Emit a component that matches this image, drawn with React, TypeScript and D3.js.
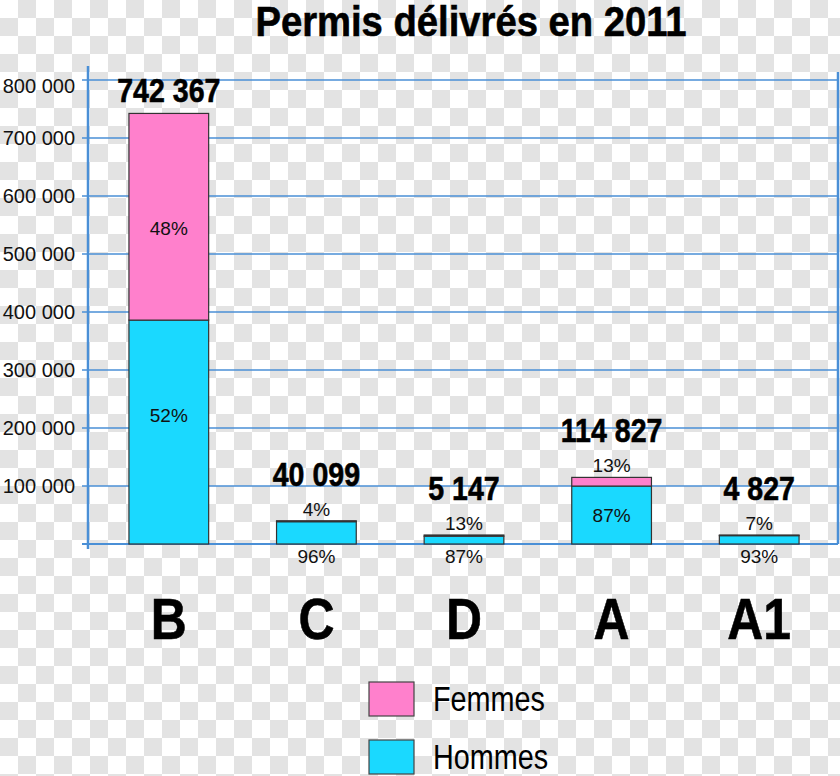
import { scaleBand, scaleLinear, format, range } from 'd3'
import type { ReactNode } from 'react'

const categories = ['B', 'C', 'D', 'A', 'A1']
const totals = [742367, 40099, 5147, 114827, 4827]
const hommesShare = [52, 96, 87, 87, 93]
const femmesShare = [48, 4, 13, 13, 7]
const yTicks = [100000, 200000, 300000, 400000, 500000, 600000, 700000, 800000]
const legendItems = [
  { label: 'Femmes', color: '#ff80cc' },
  { label: 'Hommes', color: '#1ad9ff' },
]

const PINK = '#ff80cc'
const CYAN = '#1ad9ff'
const GRID = '#4a8fd6'
const SANS = '"Liberation Sans", Arial, sans-serif'
const MIN_BAR_PX = 9
const CELL = 18

const fmt = (v: number) => format(',')(v).replace(/,/g, ' ')

// no narrow font installed, so squeeze Liberation Sans horizontally
function NText({
  x,
  y,
  size,
  squeeze,
  bold,
  anchor = 'middle',
  children,
}: {
  x: number
  y: number
  size: number
  squeeze: number
  bold?: boolean
  anchor?: 'start' | 'middle' | 'end'
  children: ReactNode
}) {
  return (
    <g transform={`translate(${x},${y}) scale(${squeeze},1)`}>
      <text
        textAnchor={anchor}
        fontFamily={SANS}
        fontWeight={bold ? 'bold' : 'normal'}
        fontSize={size}
        fill="#000"
        stroke={bold ? '#000' : 'none'}
        strokeWidth={bold ? 0.6 : 0}
      >
        {children}
      </text>
    </g>
  )
}

export default function App() {
  const width = 840
  const height = 776
  const left = 88
  const right = 838
  const baseline = 544

  const x = scaleBand<string>().domain(categories).range([95, 833]).paddingInner(0.46).paddingOuter(0.23)
  const y = scaleLinear().domain([0, 800000]).range([baseline, 80])

  // transparency checkerboard behind the chart
  const cols = range(Math.ceil(width / CELL))
  const rows = range(Math.ceil(height / CELL))

  return (
    <svg
      width={width}
      height={height}
      style={{ position: 'absolute', left: 0, top: 0, display: 'block' }}
    >
      <rect width={width} height={height} fill="#ffffff" />
      <g>
        {rows.map((r) =>
          cols
            .filter((c) => (r + c) % 2 === 1)
            .map((c) => (
              <rect key={`${r}-${c}`} x={c * CELL} y={r * CELL} width={CELL} height={CELL} fill="#e3e3e3" />
            )),
        )}
      </g>

      <NText x={471} y={36} size={42} squeeze={0.91} bold>
        Permis délivrés en 2011
      </NText>

      {yTicks.map((t) => (
        <g key={t}>
          <line x1={left - 6} x2={right} y1={y(t)} y2={y(t)} stroke={GRID} strokeWidth={1.5} />
          <text
            x={75}
            y={Math.max(y(t), 86)}
            dy="0.35em"
            textAnchor="end"
            fontFamily={SANS}
            fontSize={20}
            fill="#111"
          >
            {fmt(t)}
          </text>
        </g>
      ))}
      <line x1={left - 6} x2={right} y1={baseline} y2={baseline} stroke={GRID} strokeWidth={2} />
      <line x1={left} x2={left} y1={66} y2={549} stroke={GRID} strokeWidth={2.5} />
      <line x1={right} x2={right} y1={72} y2={baseline} stroke={GRID} strokeWidth={2.5} />

      {categories.map((c, i) => {
        const bx = x(c) ?? 0
        const bw = x.bandwidth()
        const cx = bx + bw / 2
        const barH = Math.max(baseline - y(totals[i]), MIN_BAR_PX)
        const top = baseline - barH
        const hH = (barH * hommesShare[i]) / 100
        const split = baseline - hH
        const fH = split - top
        const femmesInside = fH > 30
        const hommesInside = hH > 30
        return (
          <g key={c}>
            <rect x={bx} y={split} width={bw} height={hH} fill={CYAN} stroke="#333" strokeWidth={1.2} />
            <rect x={bx} y={top} width={bw} height={fH} fill={PINK} stroke="#333" strokeWidth={1.2} />
            <text
              x={cx}
              y={femmesInside ? (top + split) / 2 + 12 : top - 5}
              dy={femmesInside ? '0.35em' : 0}
              textAnchor="middle"
              fontFamily={SANS}
              fontSize={19}
              fill="#111"
            >
              {femmesShare[i]}%
            </text>
            <text
              x={cx}
              y={hommesInside ? (split + baseline) / 2 - (hH > 100 ? 17 : 0) : baseline + 19}
              dy={hommesInside ? '0.35em' : 0}
              textAnchor="middle"
              fontFamily={SANS}
              fontSize={19}
              fill="#111"
            >
              {hommesShare[i]}%
            </text>
            <NText x={cx} y={femmesInside ? top - 11 : top - 35} size={34} squeeze={0.84} bold>
              {fmt(totals[i])}
            </NText>
            <NText x={cx} y={639} size={58} squeeze={0.86} bold>
              {c}
            </NText>
          </g>
        )
      })}

      {legendItems.map((d, i) => (
        <g key={d.label} transform={`translate(369, ${682 + i * 58})`}>
          <rect width={45} height={34} fill={d.color} stroke="#444" strokeWidth={1.2} />
          <NText x={64} y={29} size={36} squeeze={0.8} anchor="start">
            {d.label}
          </NText>
        </g>
      ))}
    </svg>
  )
}
